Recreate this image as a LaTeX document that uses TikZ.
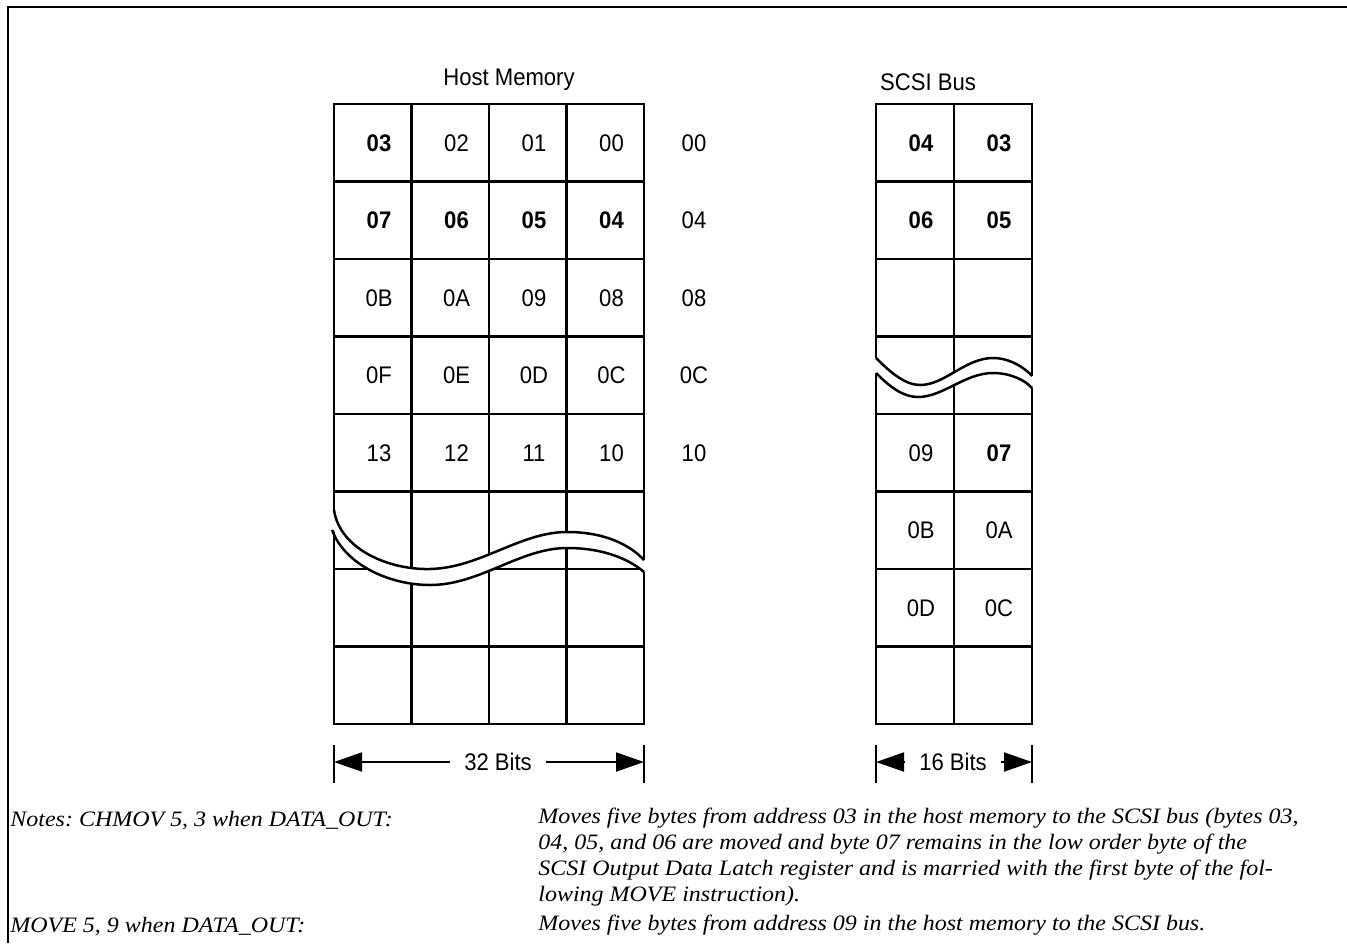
\documentclass[tikz,border=0pt]{standalone}
\usepackage{fontspec}
\setmainfont{Liberation Serif}
\newfontfamily\condsf{Liberation Sans}[FakeStretch=0.92]
\newfontfamily\notefont{Liberation Serif}[FakeStretch=1.09]
\usetikzlibrary{arrows.meta, positioning}
\newcommand{\hot}[1]{\textbf{#1}}

\begin{document}
\begin{tikzpicture}[
    x=0.5pt, y=-0.5pt,
    frame/.style={line width=1pt},
    cellln/.style={line width=1.25pt},
    gap/.style={fill=white, draw=none},
    brk/.style={line width=1.25pt},
    ttl/.style={font=\condsf\fontsize{12}{14}\selectfont, inner sep=0pt},
    val/.style={font=\condsf\fontsize{12}{14}\selectfont, inner sep=0pt},
    dimtick/.style={line width=1pt},
    dimarr/.style={line width=1pt, -{Triangle[length=14pt, width=9.5pt]}},
    dimlbl/.style={font=\condsf\fontsize{12}{14}\selectfont, inner ysep=0pt},
    note/.style={font=\notefont\itshape\frenchspacing\fontsize{11}{13}\selectfont, inner sep=0pt, align=left}
]
\useasboundingbox (0,0) rectangle (1347,943);

% === RAMECEK ===
\draw[frame] (8,943) -- (8,7) -- (1347,7);

% === HOST MEMORY ===
\node[ttl] (hmt) at (509,80) {Host Memory};
\foreach \r in {0,...,8}
    \draw[cellln] (334,{104+77.5*\r}) -- (644,{104+77.5*\r});
\foreach \c in {0,...,4}
    \draw[cellln] ({334+77.5*\c},104) -- ({334+77.5*\c},724);
\draw[cellln] (334,104) rectangle (644,724);

% break
\fill[gap] (328,510) -- (334,510)
    .. controls (340,550) and (390,570) .. (430,569)
    .. controls (480,568) and (520,532) .. (567,532)
    .. controls (605,532) and (630,545) .. (644,560) -- (650,560)
    -- (650,572) -- (644,572)
    .. controls (630,560) and (605,548) .. (567,548)
    .. controls (520,548) and (480,585) .. (430,585)
    .. controls (390,585) and (345,565) .. (334,530) -- (328,530) -- cycle;
\draw[brk] (334,510)
    .. controls (340,550) and (390,570) .. (430,569)
    .. controls (480,568) and (520,532) .. (567,532)
    .. controls (605,532) and (630,545) .. (644,560);
\draw[brk] (332,530)
    .. controls (345,565) and (390,585) .. (430,585)
    .. controls (480,585) and (520,548) .. (567,548)
    .. controls (605,548) and (630,560) .. (644,572);

\foreach \t [count=\k from 0] in {\hot{03},02,01,00,\hot{07},\hot{06},\hot{05},\hot{04},0B,0A,09,08,0F,0E,0D,0C,13,12,11,10}
    \node[val] (hm\k) at ({379+77.5*mod(\k,4)},{143+77.5*int(\k/4)}) {\t};

\foreach \t [count=\k from 0] in {00,04,08,0C,10}
    \node[val] (ad\k) at (694,{143+77.5*\k}) {\t};

% === SCSI BUS ===
\node[ttl] (sbt) at (928,82) {SCSI Bus};
\foreach \r in {0,...,8}
    \draw[cellln] (876,{104+77.5*\r}) -- (1032,{104+77.5*\r});
\foreach \c in {0,...,2}
    \draw[cellln] ({876+78*\c},104) -- ({876+78*\c},724);
\draw[cellln] (876,104) rectangle (1032,724);

% break
\fill[gap] (870,358) -- (876,358)
    .. controls (890,372) and (905,385) .. (920,385)
    .. controls (945,385) and (965,358) .. (993,358)
    .. controls (1010,358) and (1025,368) .. (1032,376) -- (1038,376)
    -- (1038,388) -- (1032,388)
    .. controls (1025,380) and (1010,373) .. (993,373)
    .. controls (965,373) and (943,397) .. (918,397)
    .. controls (903,397) and (890,387) .. (876,373) -- (870,373) -- cycle;
\draw[brk] (876,358)
    .. controls (890,372) and (905,385) .. (920,385)
    .. controls (945,385) and (965,358) .. (993,358)
    .. controls (1010,358) and (1025,368) .. (1032,376);
\draw[brk] (876,373)
    .. controls (890,387) and (903,397) .. (918,397)
    .. controls (943,397) and (965,373) .. (993,373)
    .. controls (1010,373) and (1025,380) .. (1032,388);

\foreach \r/\lo/\hi [count=\k] in {0/\hot{04}/\hot{03}, 1/\hot{06}/\hot{05}, 4/09/\hot{07}, 5/0B/0A, 6/0D/0C} {
    \node[val] (sbl\k) at (921,{143+77.5*\r}) {\lo};
    \node[val] (sbr\k) at (999,{143+77.5*\r}) {\hi};
}

% === SIRKY ===
\coordinate (hl) at (334,762);
\coordinate (hr) at (644,762);
\draw[dimtick] (334,745) -- (334,783);
\draw[dimtick] (644,745) -- (644,783);
\node[dimlbl, inner xsep=7pt] (w32) at (498,762) {32 Bits};
\draw[dimarr] (w32.west) -- (hl);
\draw[dimarr] (w32.east) -- (hr);

\coordinate (sl) at (876,762);
\coordinate (sr) at (1032,762);
\draw[dimtick] (876,745) -- (876,783);
\draw[dimtick] (1032,745) -- (1032,783);
\node[dimlbl, inner xsep=7pt] (w16) at (953,762) {16 Bits};
\draw[dimarr] (w16.west) -- (sl);
\draw[dimarr] (w16.east) -- (sr);

% === POZNAMKY ===
\node[note, anchor=base west] (n1) at (10,826) {Notes: CHMOV 5, 3 when DATA\_OUT:};
\node[note, anchor=base west] (n2) at (10,932) {MOVE 5, 9 when DATA\_OUT:};
\node[note, anchor=north west] (d1) at (538,808) {%
Moves five bytes from address 03 in the host memory to the SCSI bus (bytes 03,\\
04, 05, and 06 are moved and byte 07 remains in the low order byte of the\\
SCSI Output Data Latch register and is married with the first byte of the fol-\\
lowing MOVE instruction).};
\node[note, anchor=base west] (d2) at (538,930) {Moves five bytes from address 09 in the host memory to the SCSI bus.};

\end{tikzpicture}
\end{document}
